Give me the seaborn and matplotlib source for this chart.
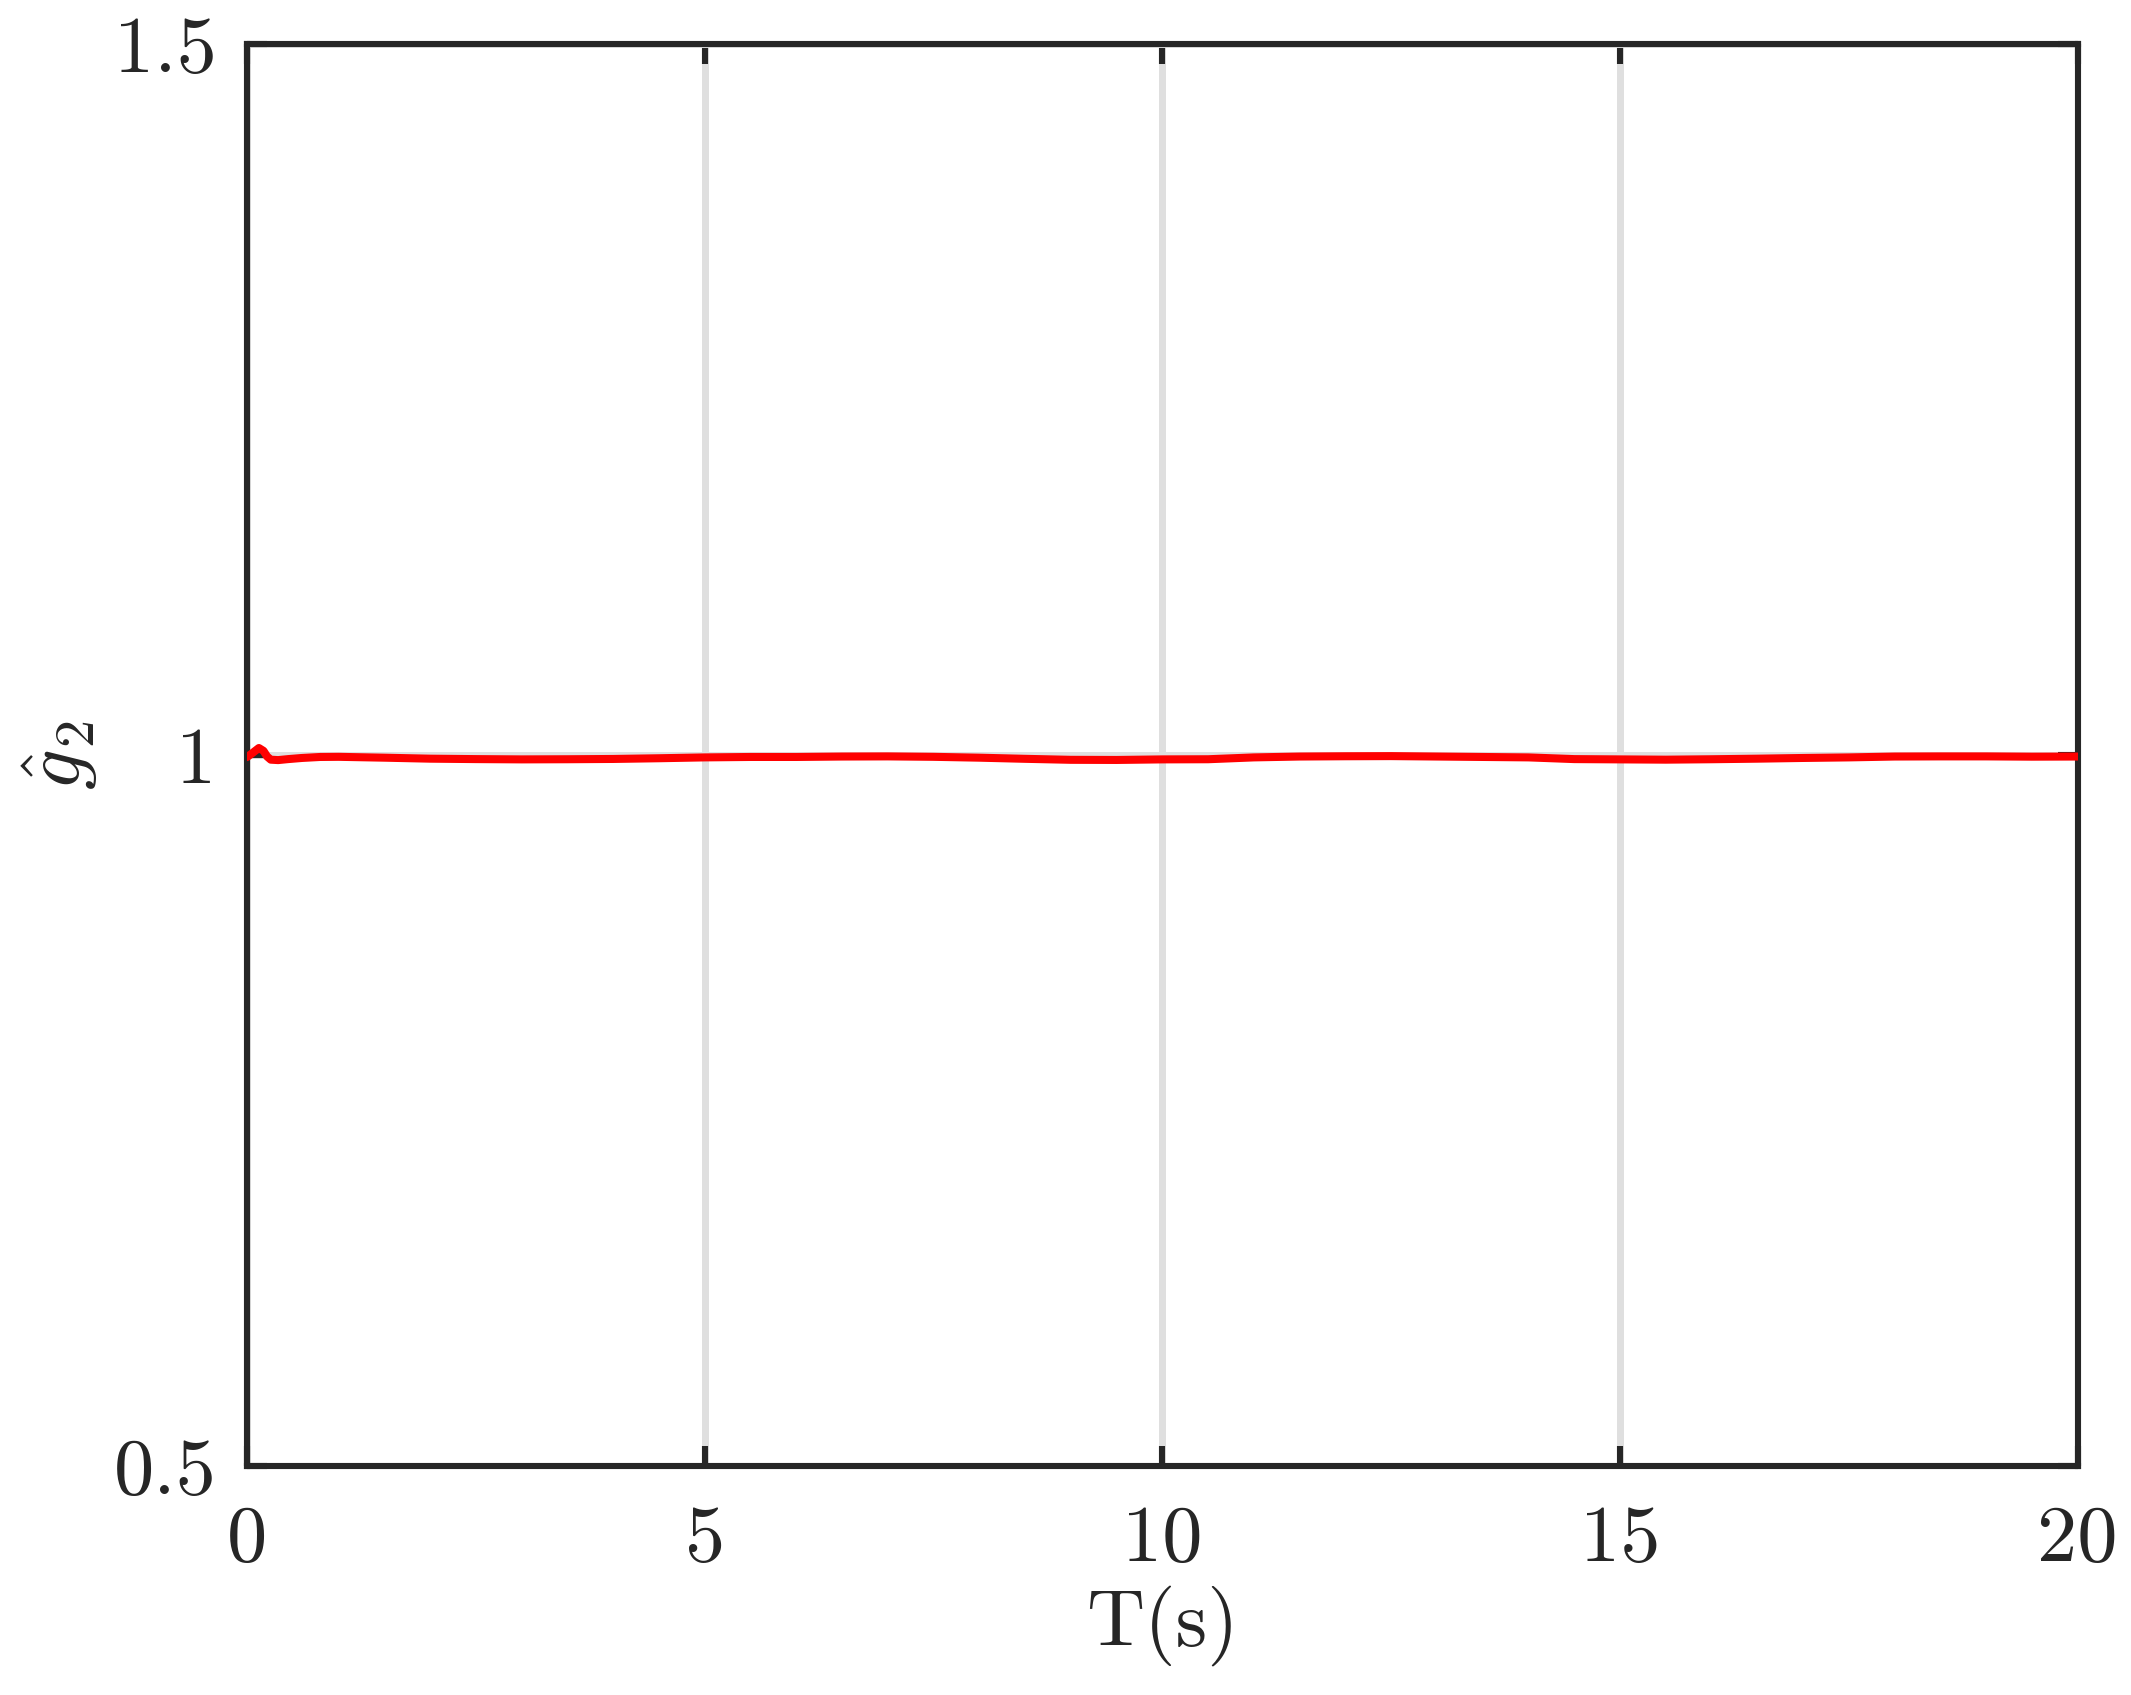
import numpy as np
import pandas as pd
import matplotlib
matplotlib.use("Agg")
import matplotlib.pyplot as plt
import seaborn as sns

# estimated g2 hat trace
time_s = [0.0, 0.05, 0.1, 0.13, 0.18, 0.22, 0.26, 0.34, 0.45, 0.6, 0.8, 1.0,
          1.5, 2.0, 2.5, 3.0, 3.5, 4.0, 4.5, 5.0, 5.5, 6.0, 6.5, 7.0, 7.5,
          8.0, 8.5, 9.0, 9.5, 10.0, 10.5, 11.0, 11.5, 12.0, 12.5, 13.0, 13.5,
          14.0, 14.5, 15.0, 15.5, 16.0, 16.5, 17.0, 17.5, 18.0, 18.5, 19.0,
          19.5, 20.0]
g2_hat = [0.9986, 1.0010, 1.0035, 1.0050, 1.0030, 0.9990, 0.9968, 0.9965,
          0.9972, 0.9980, 0.9987, 0.9988, 0.9982, 0.9975, 0.9972, 0.9970,
          0.9971, 0.9973, 0.9978, 0.9984, 0.9987, 0.9987, 0.9990, 0.9991,
          0.9988, 0.9982, 0.9974, 0.9967, 0.9966, 0.9970, 0.9971, 0.9984,
          0.9990, 0.9992, 0.9993, 0.9990, 0.9987, 0.9984, 0.9972, 0.9970,
          0.9968, 0.9971, 0.9975, 0.9980, 0.9984, 0.9990, 0.9991, 0.9991,
          0.9989, 0.9990]

x_ticks = [0, 5, 10, 15, 20]
y_ticks = [0.5, 1, 1.5]
y_tick_labels = ["0.5", "1", "1.5"]

df = pd.DataFrame({"t": time_s, "g": g2_hat})

sns.set_style("ticks")
plt.rcParams["font.family"] = ["cmr10", "DejaVu Serif"]
plt.rcParams["mathtext.fontset"] = "cm"
plt.rcParams["axes.formatter.use_mathtext"] = True

dark = "#262626"
fig = plt.figure(figsize=(10.655, 8.475), dpi=200)
ax = fig.add_axes([0.1159, 0.135, 0.975 - 0.1159, 0.974 - 0.135])

sns.lineplot(data=df, x="t", y="g", color="red", linewidth=2.9, ax=ax, zorder=3)

ax.set_xlim(0, 20)
ax.set_ylim(0.5, 1.5)
ax.set_xticks(x_ticks)
ax.set_xticklabels([str(v) for v in x_ticks])
ax.set_yticks(y_ticks)
ax.set_yticklabels(y_tick_labels)
ax.grid(True, color="#dfdfdf", linewidth=2.5, zorder=0)
ax.set_axisbelow(True)

for s in ax.spines.values():
    s.set_visible(True)
    s.set_linewidth(2.2)
    s.set_color(dark)

ax.tick_params(axis="both", direction="in", length=7.2, width=2.2,
               color=dark, labelcolor=dark, labelsize=29,
               top=True, right=True)
ax.tick_params(axis="x", pad=14)
ax.tick_params(axis="y", pad=11)

ax.set_xlabel("T(s)", fontsize=29, color=dark, labelpad=3)
ax.set_ylabel(r"$\hat{g}_2$", fontsize=29, color=dark, labelpad=5)

fig.savefig("out.png", dpi=200, facecolor="white")
